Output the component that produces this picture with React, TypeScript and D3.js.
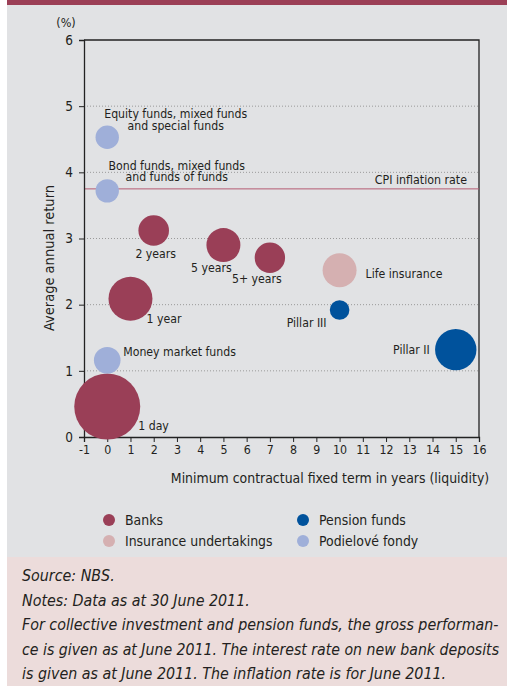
import { useEffect, useRef } from "react";
import * as d3 from "d3";

const W = 507;
const H = 686;

// bubbles
const names = [
  "1 day",
  "1 year",
  "2 years",
  "5 years",
  "5+ years",
  "Life insurance",
  "Pillar III",
  "Pillar II",
  "Money market funds",
  "Bond funds, mixed funds|and funds of funds",
  "Equity funds, mixed funds|and special funds",
];
const groups = [
  "Banks",
  "Banks",
  "Banks",
  "Banks",
  "Banks",
  "Insurance undertakings",
  "Pension funds",
  "Pension funds",
  "Podielové fondy",
  "Podielové fondy",
  "Podielové fondy",
];
const terms = [0, 1, 2, 5, 7, 10, 10, 15, 0, 0, 0];
const returns = [0.46, 2.09, 3.12, 2.9, 2.71, 2.52, 1.92, 1.32, 1.16, 3.72, 4.53];
const sizes = [10.9, 4.84, 2.34, 2.89, 2.31, 2.89, 0.96, 4.28, 1.77, 1.37, 1.37];

const cpiRate = 3.75;

const legendItems = ["Banks", "Insurance undertakings", "Pension funds", "Podielové fondy"];
const xTicks = d3.range(-1, 17);
const yTicks = [0, 1, 2, 3, 4, 5, 6];

const noteLines = [
  "Source: NBS.",
  "Notes: Data as at 30 June 2011.",
  "For collective investment and pension funds, the gross performan-",
  "ce is given as at June 2011. The interest rate on new bank deposits",
  "is given as at June 2011. The inflation rate is for June 2011.",
];

const colors: Record<string, string> = {
  Banks: "#9a3f57",
  "Insurance undertakings": "#d5b0b1",
  "Pension funds": "#00529c",
  "Podielové fondy": "#9fafd9",
};

// label placement relative to bubble centre: [dx, dy, anchor]
const labelPos: Record<string, [number, number, string]> = {
  "1 day": [31, 23, "start"],
  "1 year": [16, 24, "start"],
  "2 years": [2, 27, "middle"],
  "5 years": [-12, 27, "middle"],
  "5+ years": [-13, 25, "middle"],
  "Life insurance": [26, 7.5, "start"],
  "Pillar III": [-13, 17, "end"],
  "Pillar II": [-26, 4, "end"],
  "Money market funds": [16, -4.5, "start"],
  "Bond funds, mixed funds|and funds of funds": [69.5, -20.8, "middle"],
  "Equity funds, mixed funds|and special funds": [68.5, -18.8, "middle"],
};

const font = "'DejaVu Sans Condensed', 'DejaVu Sans', sans-serif";
const ink = "#231f20";
const margin = { top: 40, right: 28, bottom: 249, left: 84 };

export default function App() {
  const ref = useRef<SVGSVGElement>(null);

  useEffect(() => {
    document.body.style.margin = "0";
    const svg = d3.select(ref.current);
    svg.selectAll("*").remove();

    const x = d3.scaleLinear().domain([-1, 16]).range([margin.left, W - margin.right]);
    const y = d3.scaleLinear().domain([0, 6]).range([H - margin.bottom, margin.top]);
    const r = d3.scaleSqrt().domain([0, 10.9]).range([0, 33]);

    // backgrounds
    svg.append("rect").attr("x", 7).attr("y", 0).attr("width", W - 7).attr("height", 5).attr("fill", "#9b3f56");
    svg.append("rect").attr("x", 7).attr("y", 5).attr("width", W - 7).attr("height", 552).attr("fill", "#e1e2e4");
    svg.append("rect").attr("x", 7).attr("y", 557).attr("width", W - 7).attr("height", H - 557).attr("fill", "#ecdcdb");

    // grid
    svg
      .append("g")
      .selectAll("line")
      .data(yTicks.filter((d) => d > 0 && d < 6))
      .join("line")
      .attr("x1", x(-1))
      .attr("x2", x(16))
      .attr("y1", (d) => y(d))
      .attr("y2", (d) => y(d))
      .attr("stroke", "#9a9a9a")
      .attr("stroke-width", 1)
      .attr("stroke-dasharray", "1,2");

    // frame (top and right)
    svg
      .append("path")
      .attr("d", `M${x(-1)},${y(6)}H${x(16)}V${y(0)}`)
      .attr("fill", "none")
      .attr("stroke", "#222")
      .attr("stroke-width", 1.3);

    // CPI line
    svg
      .append("line")
      .attr("x1", x(-1))
      .attr("x2", x(16))
      .attr("y1", y(cpiRate))
      .attr("y2", y(cpiRate))
      .attr("stroke", "#b45a72")
      .attr("stroke-width", 1);
    svg
      .append("text")
      .attr("x", x(16) - 12)
      .attr("y", y(cpiRate) - 5)
      .attr("text-anchor", "end")
      .attr("font-size", 12.3)
      .attr("fill", ink)
      .text("CPI inflation rate");

    // axes
    const yAxis = svg
      .append("g")
      .attr("transform", `translate(${x(-1)},0)`)
      .call(d3.axisLeft(y).tickValues(yTicks).tickSize(5).tickPadding(6).tickFormat((d) => String(d)));
    const xAxis = svg
      .append("g")
      .attr("transform", `translate(0,${y(0)})`)
      .call(d3.axisBottom(x).tickValues(xTicks).tickSize(5).tickPadding(3).tickFormat((d) => String(d)));
    [yAxis, xAxis].forEach((g) => {
      g.select(".domain").attr("stroke", "#222").attr("stroke-width", 1.3);
      g.selectAll(".tick line").attr("stroke", "#222");
      g.selectAll(".tick text").attr("font-family", font).attr("fill", ink);
    });
    yAxis.selectAll(".tick text").attr("font-size", 13.5);
    xAxis.selectAll(".tick text").attr("font-size", 12.3);

    // bubbles
    const idx = d3.range(names.length);
    svg
      .append("g")
      .selectAll("circle")
      .data(idx)
      .join("circle")
      .attr("cx", (i) => x(terms[i]))
      .attr("cy", (i) => y(returns[i]))
      .attr("r", (i) => r(sizes[i]))
      .attr("fill", (i) => colors[groups[i]]);

    // bubble labels
    const lab = svg
      .append("g")
      .selectAll("text")
      .data(idx)
      .join("text")
      .attr("x", (i) => x(terms[i]) + labelPos[names[i]][0])
      .attr("y", (i) => y(returns[i]) + labelPos[names[i]][1])
      .attr("text-anchor", (i) => labelPos[names[i]][2])
      .attr("font-size", 12.2)
      .attr("fill", ink);
    lab
      .selectAll("tspan")
      .data((i) => names[i].split("|").map((t) => ({ t, i })))
      .join("tspan")
      .attr("x", (d) => x(terms[d.i]) + labelPos[names[d.i]][0])
      .attr("dy", (_, k) => (k === 0 ? 0 : 11.3))
      .text((d) => d.t);

    // axis titles
    svg
      .append("text")
      .attr("x", 66)
      .attr("y", 27)
      .attr("text-anchor", "middle")
      .attr("font-size", 12.5)
      .attr("fill", ink)
      .text("(%)");
    svg
      .append("text")
      .attr("transform", `translate(54,258) rotate(-90)`)
      .attr("text-anchor", "middle")
      .attr("font-size", 14.5)
      .attr("fill", ink)
      .text("Average annual return");
    svg
      .append("text")
      .attr("x", 330)
      .attr("y", 483)
      .attr("text-anchor", "middle")
      .attr("font-size", 13.9)
      .attr("fill", ink)
      .text("Minimum contractual fixed term in years (liquidity)");

    // legend
    const leg = svg
      .append("g")
      .selectAll("g")
      .data(legendItems)
      .join("g")
      .attr("transform", (_, i) => `translate(${i < 2 ? 109 : 303},${i % 2 === 0 ? 520 : 541})`);
    leg.append("circle").attr("r", 6).attr("fill", (d) => colors[d]);
    leg
      .append("text")
      .attr("x", 16)
      .attr("y", 5)
      .attr("font-size", 13.9)
      .attr("fill", ink)
      .text((d) => d);

    svg.selectAll("text").attr("font-family", font);

    // notes: squeezed horizontally to the reference's justified width
    const noteG = svg.append("g");
    const notes = noteG
      .selectAll("text")
      .data(noteLines)
      .join("text")
      .attr("x", 0)
      .attr("y", (_, i) => 581.5 + i * 24.5)
      .attr("font-family", font)
      .attr("font-size", 16.5)
      .attr("font-style", "italic")
      .attr("fill", ink)
      .text((d) => d);
    const nodes = notes.nodes() as SVGTextElement[];
    const base = nodes[2].getComputedTextLength();
    const f = 477 / base;
    noteG.attr("transform", `translate(22,0) scale(${f},1)`);
    nodes[3].setAttribute("textLength", String(base));
    nodes[3].setAttribute("lengthAdjust", "spacingAndGlyphs");
  }, []);

  return (
    <svg
      ref={ref}
      width={W}
      height={H}
      style={{ position: "absolute", left: 0, top: 0, background: "#fff" }}
    />
  );
}
